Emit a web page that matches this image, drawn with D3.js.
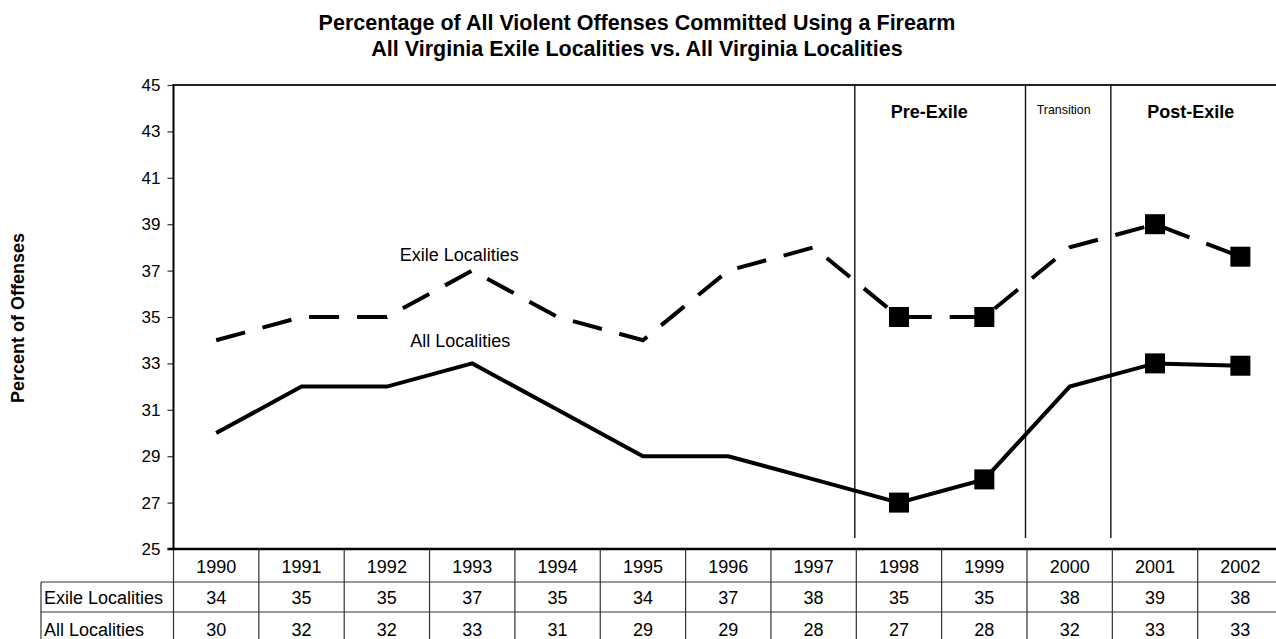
<!DOCTYPE html>
<html>
<head>
<meta charset="utf-8">
<script src="https://cdn.jsdelivr.net/npm/d3@7"></script>
<style>
  html, body { margin: 0; padding: 0; background: #fff; }
  svg { display: block; font-family: "Liberation Sans", Arial, sans-serif; }
</style>
</head>
<body>
<svg id="chart" width="1276" height="639"></svg>
<script>
// Years shown along the bottom table
const years = ["1990","1991","1992","1993","1994","1995","1996","1997","1998","1999","2000","2001","2002"];
// Percent of violent offenses committed with a firearm
const exileValues = [34, 35, 35, 37, 35, 34, 37, 38, 35, 35, 38, 39, 37.6];
const allValues   = [30, 32, 32, 33, 31, 29, 29, 28, 27, 28, 32, 33, 32.9];
const seriesNames = ["Exile Localities", "All Localities"];
// Years highlighted with square markers
const markedYears = ["1998","1999","2001","2002"];
// Y axis ticks
const yTicks = [25, 27, 29, 31, 33, 35, 37, 39, 41, 43, 45];
// Periods and the years they span
const periods = [
  { label: "Pre-Exile",  from: "1998", to: "1999", bold: true,  shift: -12.5 },
  { label: "Transition", from: "2000", to: "2000", bold: false, shift: -6 },
  { label: "Post-Exile", from: "2001", to: "2002", bold: true,  shift: -7 }
];

(function draw() {
  const svg = d3.select("#chart");
  const plotLeft = 173.5, plotTop = 85, plotBottom = 549;
  const colW = 85.35;
  const plotRight = plotLeft + colW * years.length;

  const x = d3.scaleBand().domain(years).range([plotLeft, plotRight]).padding(0);
  const xc = d => x(d) + x.bandwidth() / 2;
  const y = d3.scaleLinear().domain([25, 45]).range([plotBottom, plotTop]);

  // Title
  const title = svg.append("text").attr("text-anchor", "middle")
    .attr("font-weight", "bold").attr("font-size", 21.5);
  title.append("tspan").attr("x", 637).attr("y", 30)
    .text("Percentage of All Violent Offenses Committed Using a Firearm");
  title.append("tspan").attr("x", 637).attr("y", 56)
    .text("All Virginia Exile Localities vs. All Virginia Localities");

  // Y axis title
  svg.append("text")
    .attr("transform", "translate(24,318) rotate(-90)")
    .attr("text-anchor", "middle").attr("font-weight", "bold").attr("font-size", 18)
    .text("Percent of Offenses");

  // Y axis
  const yAxis = svg.append("g").attr("transform", `translate(${plotLeft},0)`)
    .call(d3.axisLeft(y).tickValues(yTicks).tickSize(6).tickPadding(7).tickFormat(d3.format("d")));
  yAxis.select(".domain").remove();
  yAxis.selectAll(".tick line").attr("stroke", "#333").attr("stroke-width", 1.2);
  yAxis.selectAll(".tick text").attr("font-size", 17).attr("fill", "#000")
    .attr("font-family", "Liberation Sans, Arial, sans-serif");

  // Plot frame: left axis, top border
  svg.append("line").attr("x1", plotLeft).attr("x2", plotLeft).attr("y1", plotTop - 1).attr("y2", plotBottom)
    .attr("stroke", "#000").attr("stroke-width", 2);
  svg.append("line").attr("x1", plotLeft).attr("x2", plotRight).attr("y1", plotTop).attr("y2", plotTop)
    .attr("stroke", "#222").attr("stroke-width", 2);

  // Period dividers
  const dividerYears = periods.map(p => p.from);
  svg.selectAll(".divider").data(dividerYears).join("line")
    .attr("class", "divider")
    .attr("x1", d => x(d) - 1.5).attr("x2", d => x(d) - 1.5)
    .attr("y1", plotTop).attr("y2", 538)
    .attr("stroke", "#111").attr("stroke-width", 1.4);

  // Period labels
  svg.selectAll(".period").data(periods).join("text")
    .attr("class", "period")
    .attr("x", d => (x(d.from) + x(d.to) + x.bandwidth()) / 2 + d.shift)
    .attr("y", d => d.bold ? 118 : 114)
    .attr("text-anchor", "middle")
    .attr("font-weight", d => d.bold ? "bold" : "normal")
    .attr("font-size", d => d.bold ? 18 : 12.4)
    .text(d => d.label);

  // Series lines
  const line = d3.line().x((d, i) => xc(years[i])).y(d => y(d));
  svg.append("path").datum(exileValues).attr("d", line)
    .attr("fill", "none").attr("stroke", "#000").attr("stroke-width", 4)
    .attr("stroke-dasharray", "30,18").attr("stroke-linejoin", "miter");
  svg.append("path").datum(allValues).attr("d", line)
    .attr("fill", "none").attr("stroke", "#000").attr("stroke-width", 4)
    .attr("stroke-linejoin", "miter");

  // Square markers
  const markerSize = 20;
  [exileValues, allValues].forEach(vals => {
    svg.append("g").selectAll("rect")
      .data(years.map((yr, i) => ({ yr, v: vals[i] })).filter(d => markedYears.includes(d.yr)))
      .join("rect")
      .attr("x", d => xc(d.yr) - markerSize / 2)
      .attr("y", d => y(d.v) - markerSize / 2)
      .attr("width", markerSize).attr("height", markerSize)
      .attr("fill", "#000");
  });

  // Series labels on the plot
  svg.append("text").attr("x", xc("1993") - 13).attr("y", 261).attr("text-anchor", "middle")
    .attr("font-size", 18).text(seriesNames[0]);
  svg.append("text").attr("x", xc("1993") - 12).attr("y", 347).attr("text-anchor", "middle")
    .attr("font-size", 18).text(seriesNames[1]);

  // Data table
  const row1 = 582, row2 = 612, row3 = 650;
  const tableLeft = 41;
  const grid = svg.append("g").attr("stroke", "#333").attr("stroke-width", 1.2);
  years.forEach((yr, i) => {
    if (i > 0) grid.append("line").attr("x1", x(yr)).attr("x2", x(yr)).attr("y1", plotBottom).attr("y2", row3);
  });
  grid.append("line").attr("x1", plotLeft).attr("x2", plotLeft).attr("y1", plotBottom).attr("y2", row3);
  grid.append("line").attr("x1", tableLeft).attr("x2", tableLeft).attr("y1", row1).attr("y2", row3);
  grid.append("line").attr("x1", tableLeft).attr("x2", plotRight).attr("y1", row1).attr("y2", row1);
  grid.append("line").attr("x1", tableLeft).attr("x2", plotRight).attr("y1", row2).attr("y2", row2);

  // Bottom axis line (heavier)
  svg.append("line").attr("x1", plotLeft - 6).attr("x2", plotRight).attr("y1", plotBottom).attr("y2", plotBottom)
    .attr("stroke", "#000").attr("stroke-width", 2.5);

  // Header row: years
  svg.append("g").selectAll("text").data(years).join("text")
    .attr("x", d => xc(d)).attr("y", 573).attr("text-anchor", "middle")
    .attr("font-size", 18).text(d => d);

  // Series rows
  const fmt = d3.format(".0f");
  const rows = [
    { name: seriesNames[0], vals: exileValues, yPos: 604 },
    { name: seriesNames[1], vals: allValues, yPos: 636 }
  ];
  rows.forEach(r => {
    svg.append("text").attr("x", tableLeft + 3).attr("y", r.yPos).attr("font-size", 18).text(r.name);
    svg.append("g").selectAll("text").data(r.vals).join("text")
      .attr("x", (d, i) => xc(years[i])).attr("y", r.yPos).attr("text-anchor", "middle")
      .attr("font-size", 18).text(d => fmt(d));
  });
})();
</script>
</body>
</html>
